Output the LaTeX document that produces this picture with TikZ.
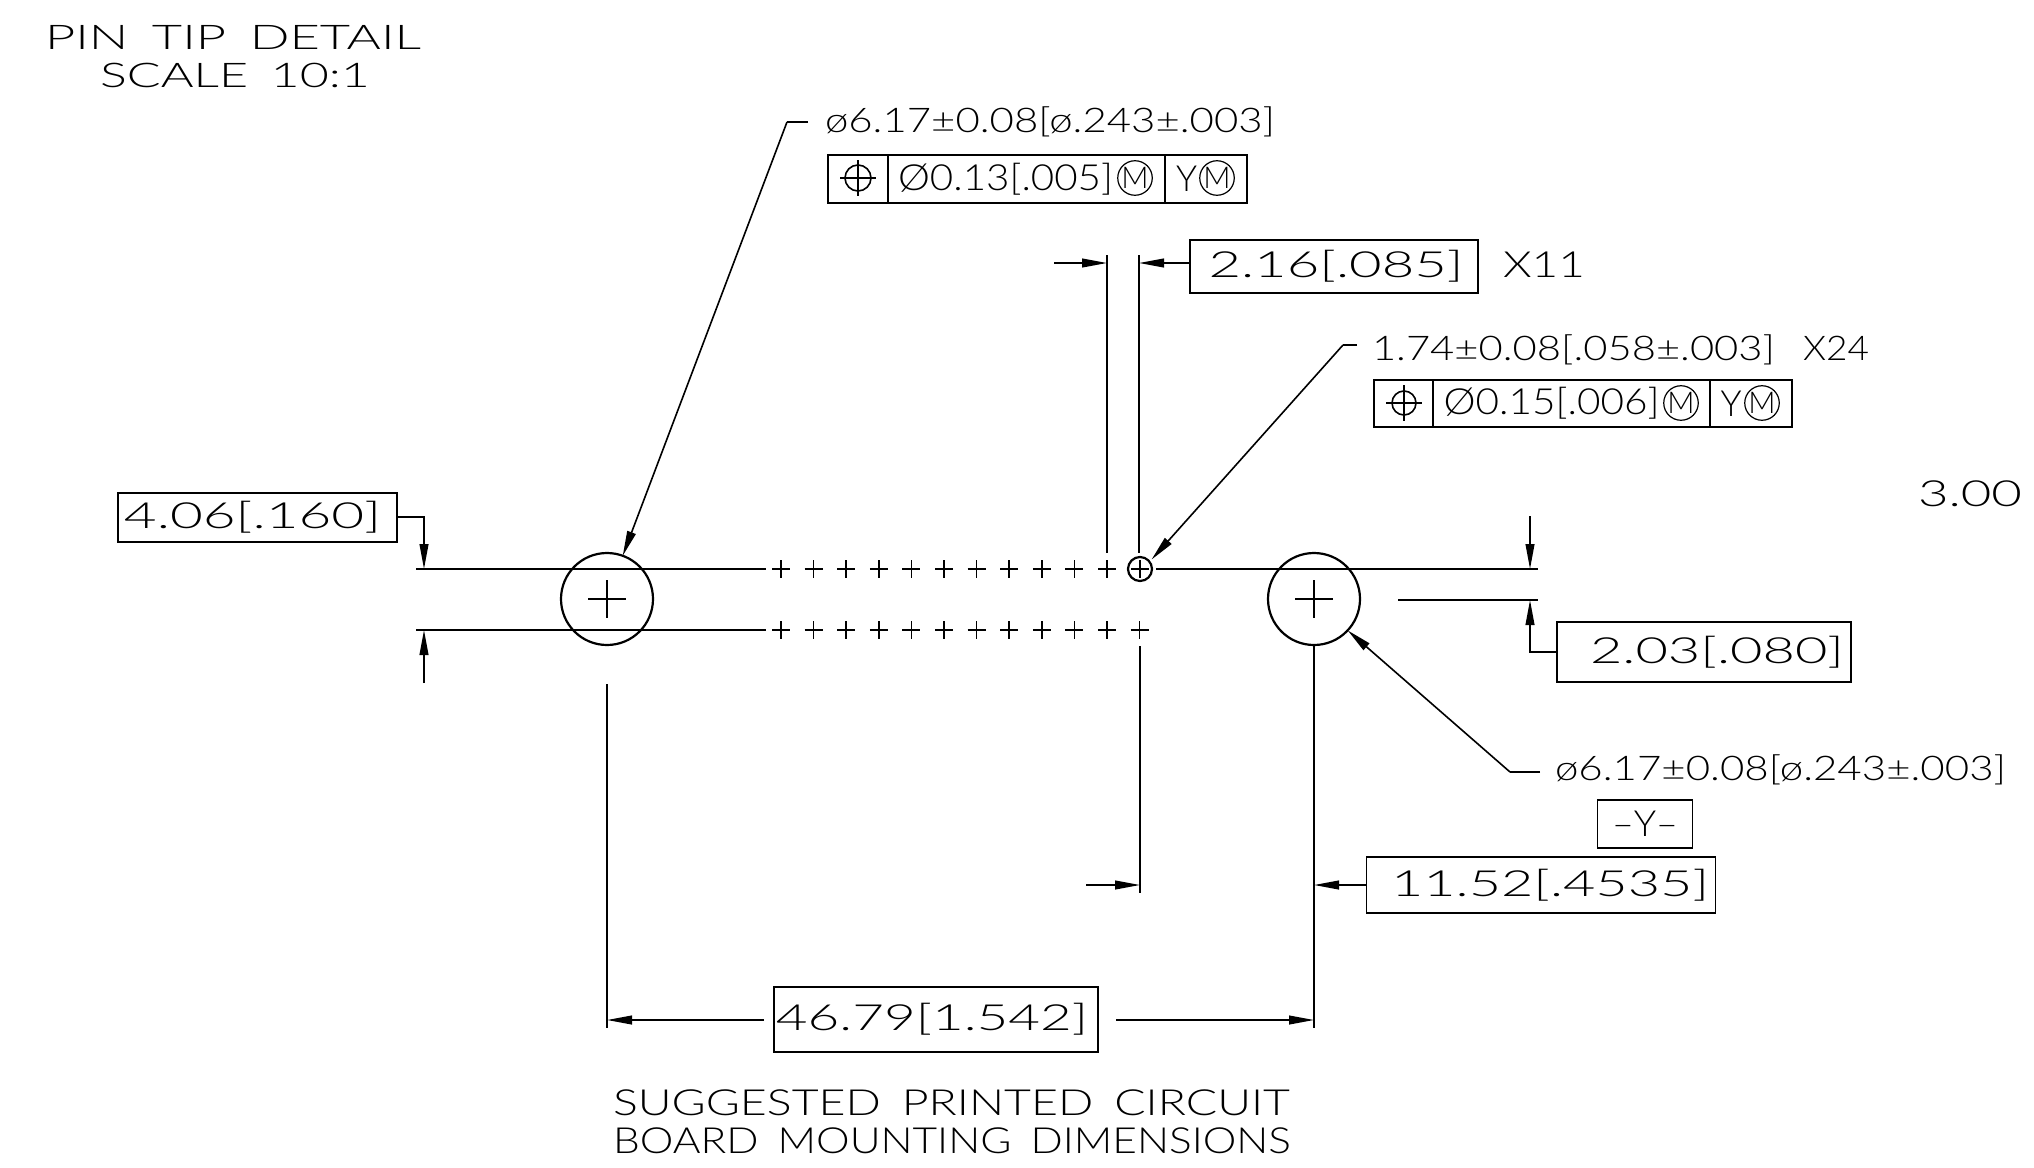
\documentclass[tikz,border=0pt]{standalone}
\usepackage{fontspec}
\usepackage{graphicx}
\setmainfont{Lato Light}
\usetikzlibrary{arrows.meta}

% width in reference pixels, optional shift of the text inside its box
\newcommand{\fitw}[3][0]{\kern\dimexpr#1pt\relax\resizebox{\dimexpr#2pt/2\relax}{\height}{#3}}

\tikzset{
  dimline/.style={line width=0.8pt},
  dimarrow/.style={line width=0.8pt,-{Triangle[length=12.5pt,width=4.4pt]}},
  dimtxt/.style={inner sep=0,outer sep=0,anchor=base west,font=\fontsize{18}{20}\selectfont},
  smalltxt/.style={dimtxt,font=\fontsize{17}{20}\selectfont},
  dimbox/.style 2 args={draw,line width=0.8pt,inner sep=0,outer sep=0,
    minimum width=#1*0.5pt,minimum height=#2*0.5pt,font=\fontsize{18}{20}\selectfont},
  hole/.style={circle,draw,line width=1.1pt,inner sep=0,outer sep=0,minimum size=#1*0.5pt},
  mcirc/.style={circle,draw,line width=0.6pt,inner sep=0,outer sep=0,minimum size=34*0.5pt,
    font=\fontsize{15}{15}\selectfont},
}

\begin{document}
\begin{tikzpicture}[x=0.5pt,y=-0.5pt]
  \useasboundingbox (0,0) rectangle (2034,1167);

  % headings
  \node[smalltxt] (title1) at (45,49) {\fitw{376}{PIN\hspace{.45em}TIP\hspace{.45em}DETAIL}};
  \node[smalltxt] (title2) at (100,87) {\fitw{270}{SCALE\hspace{.45em}10:1}};
  \node[dimtxt] (title3) at (613,1115) {\fitw{677}{SUGGESTED\hspace{.45em}PRINTED\hspace{.45em}CIRCUIT}};
  \node[dimtxt] (title4) at (613,1153) {\fitw{678}{BOARD\hspace{.45em}MOUNTING\hspace{.45em}DIMENSIONS}};
  \node[dimtxt] (cutoff) at (1918,506) {\fitw{104}{3.00}};

  % holes and pins
  \node[hole=92] (holeL) at (607,599) {};
  \node[hole=92] (holeR) at (1314,599) {};
  \node[hole=24] (pinA) at (1140,569) {};
  \draw[dimline] (607,580) -- (607,618) (588,599) -- (626,599);
  \draw[dimline] (1314,580) -- (1314,618) (1295,599) -- (1333,599);
  \foreach \n in {0,...,11} {
    \draw[dimline] ({781+\n*32.6-9},630) -- ({781+\n*32.6+9},630);
    \draw[dimline] ({781+\n*32.6},621) -- ({781+\n*32.6},639);
  }
  \foreach \n in {0,...,10} {
    \draw[dimline] ({781+\n*32.6-9},569) -- ({781+\n*32.6+9},569);
    \draw[dimline] ({781+\n*32.6},560) -- ({781+\n*32.6},578);
  }
  \draw[dimline] (1131,569) -- (1149,569) (1140,560) -- (1140,578);

  % pin row lines
  \coordinate (rowAl) at (416,569);
  \coordinate (rowAm) at (766,569);
  \coordinate (rowBl) at (416,630);
  \coordinate (rowBm) at (766,630);
  \coordinate (rowAr) at (1156,569);
  \coordinate (rowAe) at (1538,569);
  \coordinate (midRs) at (1398,600);
  \coordinate (midRe) at (1538,600);
  \draw[dimline] (rowAl) -- (rowAm);
  \draw[dimline] (rowBl) -- (rowBm);
  \draw[dimline] (rowAr) -- (rowAe);
  \draw[dimline] (midRs) -- (midRe);

  % upper hole note
  \node[smalltxt] (noteA) at (825,132) {\fitw{450}{ø6.17±0.08[ø.243±.003]}};
  \coordinate (stubA) at (808,122);
  \coordinate (kneeA) at (787,122);
  \draw[dimline] (stubA) -- (kneeA);
  \draw[dimarrow] (kneeA) -- (holeL.70);
  \node[dimbox={60}{48}] (frmA1) at (858,179) {};
  \node[dimbox={277}{48}] (frmA2) at (1026.5,179) {\fitw[-21]{215}{Ø0.13[.005]}};
  \node[dimbox={82}{48}] (frmA3) at (1206,179) {\fitw[-19.5]{21}{Y}};
  \node[mcirc] (mA2) at (1135,178) {M};
  \node[mcirc] (mA3) at (1217,178) {M};
  \draw[dimline] (858,160) -- (858,196) (840,178) -- (876,178);
  \draw[dimline] (858,178) circle (13);

  % pitch dimension
  \node[dimbox={288}{53}] (pitchBox) at (1334,266.5) {\fitw[2]{255}{2.16[.085]}};
  \node[dimtxt] (pitchCnt) at (1503,277) {\fitw{82}{X11}};
  \coordinate (extA) at (1107,255);
  \coordinate (extAe) at (1107,553);
  \coordinate (extB) at (1139,255);
  \coordinate (extBe) at (1139,553);
  \coordinate (pitchL) at (1054,263);
  \draw[dimline] (extA) -- (extAe);
  \draw[dimline] (extB) -- (extBe);
  \draw[dimarrow] (pitchL) -- (extA |- pitchL);
  \draw[dimarrow] (pitchBox.west |- pitchL) -- (extB |- pitchL);

  % pin note
  \node[smalltxt] (noteB) at (1372,360) {\fitw{403}{1.74±0.08[.058±.003]}};
  \node[smalltxt] (noteBc) at (1803,360) {\fitw{66}{X24}};
  \coordinate (stubB) at (1357,345);
  \coordinate (kneeB) at (1343,345);
  \draw[dimline] (stubB) -- (kneeB);
  \draw[dimarrow,shorten >=1.5pt] (kneeB) -- (pinA.37);
  \node[dimbox={59}{47}] (frmB1) at (1403.5,403.5) {};
  \node[dimbox={277}{47}] (frmB2) at (1571.5,403.5) {\fitw[-20]{216}{Ø0.15[.006]}};
  \node[dimbox={82}{47}] (frmB3) at (1751,403.5) {\fitw[-20]{21}{Y}};
  \node[mcirc] (mB2) at (1681,403) {M};
  \node[mcirc] (mB3) at (1762,403) {M};
  \draw[dimline] (1404,385) -- (1404,421) (1386,403) -- (1422,403);
  \draw[dimline] (1404,403) circle (12);

  % row spacing, left
  \node[dimbox={279}{49}] (rowBox) at (257.5,517.5) {\fitw[-5]{257}{4.06[.160]}};
  \coordinate (rowKnee) at (424,517);
  \coordinate (rowTail) at (424,683);
  \draw[dimarrow] (rowBox.east |- rowKnee) -- (rowKnee) -- (rowKnee |- rowAl);
  \draw[dimarrow] (rowTail) -- (rowTail |- rowBl);

  % row offset, right
  \node[dimbox={294}{60}] (offBox) at (1704,652) {\fitw[13]{254}{2.03[.080]}};
  \coordinate (offTop) at (1530,516);
  \coordinate (offKnee) at (1530,652);
  \draw[dimarrow] (offTop) -- (offTop |- rowAe);
  \draw[dimarrow] (offBox.west) -- (offKnee) -- (offKnee |- midRe);

  % lower hole note
  \node[smalltxt] (noteC) at (1555,780) {\fitw{451}{ø6.17±0.08[ø.243±.003]}};
  \coordinate (stubC) at (1540,772);
  \coordinate (kneeC) at (1510,772);
  \draw[dimline] (stubC) -- (kneeC);
  \draw[dimarrow] (kneeC) -- (holeR.-43);
  \node[dimbox={95}{48}] (datumY) at (1645,824) {\fitw{66}{–Y–}};

  % pin offset
  \node[dimbox={349}{56}] (pinBox) at (1541,885) {\fitw[9]{318}{11.52[.4535]}};
  \coordinate (extC) at (1140,646);
  \coordinate (extCe) at (1140,893);
  \coordinate (extD) at (1314,1028);
  \coordinate (pinL) at (1086,885);
  \draw[dimline] (extC) -- (extCe);
  \draw[dimline] (holeR.south) -- (extD);
  \draw[dimarrow] (pinL) -- (extC |- pinL);
  \draw[dimarrow] (pinBox.west) -- (holeR.south |- pinBox.west);

  % hole spacing
  \node[dimbox={324}{65}] (spanBox) at (936,1019.5) {\fitw[-4]{312}{46.79[1.542]}};
  \coordinate (extE) at (607,684);
  \coordinate (extEe) at (607,1028);
  \coordinate (spanL) at (764,1020);
  \coordinate (spanR) at (1116,1020);
  \draw[dimline] (extE) -- (extEe);
  \draw[dimarrow] (spanL) -- (extE |- spanL);
  \draw[dimarrow] (spanR) -- (extD |- spanR);
\end{tikzpicture}
\end{document}
